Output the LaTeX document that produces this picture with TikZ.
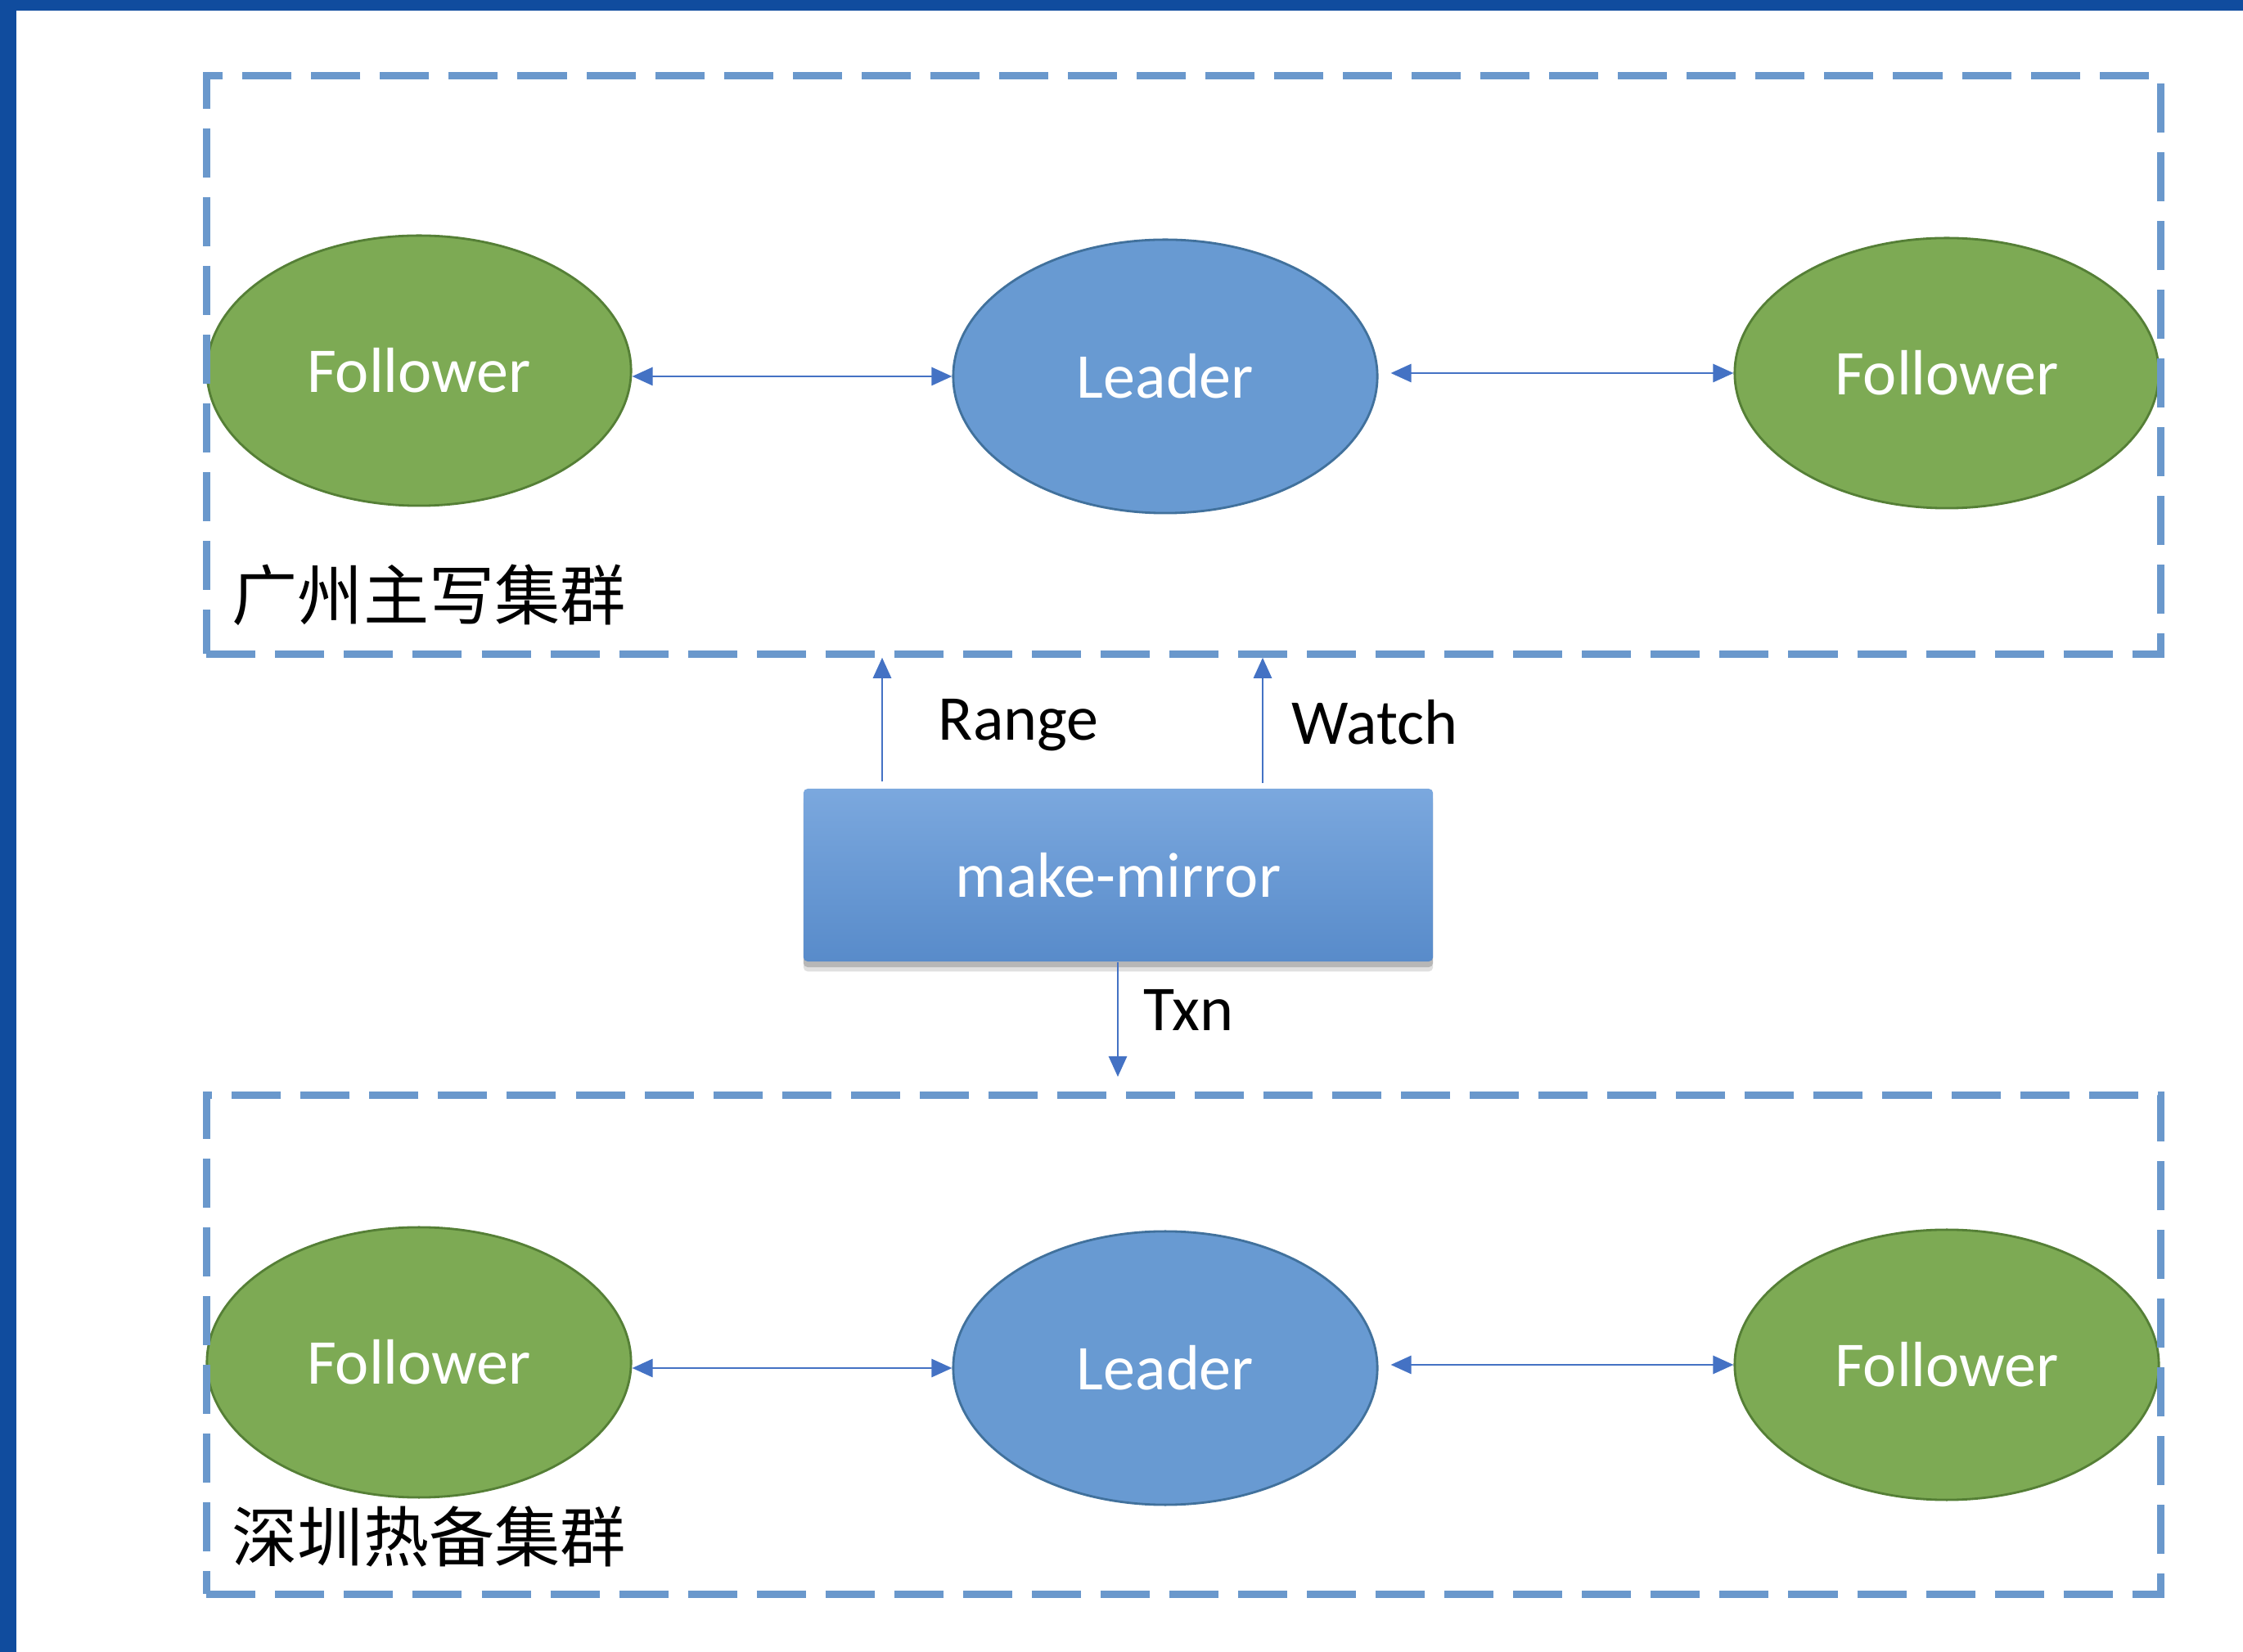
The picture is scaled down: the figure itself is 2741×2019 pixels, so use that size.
\documentclass[tikz,border=0pt]{standalone}
\usepackage{fontspec}
\setmainfont{Carlito}
\newfontfamily\cjk{Noto Sans CJK SC}
\usetikzlibrary{shapes.geometric,arrows.meta,shadows}
\definecolor{frameblue}{RGB}{16,76,158}
\definecolor{dashblue}{RGB}{106,152,204}
\definecolor{arrowblue}{RGB}{68,114,196}
\definecolor{fgreen}{RGB}{125,170,84}
\definecolor{fgreenline}{RGB}{85,127,54}
\definecolor{lblue}{RGB}{104,154,210}
\definecolor{lblueline}{RGB}{65,113,156}
\definecolor{mmtop}{RGB}{123,168,222}
\definecolor{mmbot}{RGB}{88,139,202}
\tikzset{
  txt/.style={font=\fontsize{22.2}{26}\selectfont},
  follower/.style={ellipse, draw=fgreenline, line width=0.8pt, fill=fgreen, text=white, txt,
    minimum width=5.18cm, minimum height=3.3cm, inner sep=0pt},
  leader/.style={ellipse, draw=lblueline, line width=0.8pt, fill=lblue, text=white, txt,
    minimum width=5.18cm, minimum height=3.34cm, inner sep=0pt},
  clusterbox/.style={rectangle, draw=dashblue, line width=2.6pt, dash pattern=on 0.6cm off 0.24cm,
    minimum width=23.87cm, inner sep=0pt},
  mirrorbox/.style={rectangle, rounded corners=1.5pt, top color=mmtop, bottom color=mmbot, draw=none, text=white, txt,
    minimum width=7.69cm, minimum height=2.11cm, inner sep=0pt,
    general shadow={shadow xshift=0pt, shadow yshift=-3.5pt, fill=black, opacity=0.12},
    general shadow={shadow xshift=0pt, shadow yshift=-2pt, fill=black, opacity=0.18}},
  conn/.style={draw=arrowblue, line width=0.8pt, >={Triangle[length=0.25cm,width=0.22cm]}},
  lbl/.style={txt, text=black, inner sep=0pt, anchor=base west},
  cjklbl/.style={font=\cjk\fontsize{22.8}{26}\selectfont, text=black, inner sep=0pt, anchor=west}
}
\begin{document}
\begin{tikzpicture}[x=0.01cm, y=-0.01cm]
\path[use as bounding box] (0,0) rectangle (2741,2019);
\fill[white] (0,0) rectangle (2741,2019);
\fill[frameblue] (0,0) rectangle (20,2019);
\fill[frameblue] (0,0) rectangle (2741,13);

% top cluster
\node[follower] (f1) at (512,453) {Follower};
\node[leader] (l1) at (1424,460) {Leader};
\node[follower] (f2) at (2379,456) {Follower};
% bottom cluster
\node[follower] (f3) at (512,1665) {Follower};
\node[leader] (l2) at (1424,1672) {Leader};
\node[follower] (f4) at (2379,1668) {Follower};

\node[clusterbox, minimum height=7.06cm] (gz) at (1446.5,446) {};
\node[clusterbox, minimum height=6.09cm] (sz) at (1446.5,1643.5) {};

\node[cjklbl] (gzlabel) at (283,727) {广州主写集群};
\node[cjklbl] (szlabel) at (283,1878) {深圳热备集群};

\node[mirrorbox] (mm) at (1366.5,1069.5) {make-mirror};

% horizontal connectors
\draw[conn,<->] (l1.west -| f1.east) -- (l1.west);
\draw[conn,<->] ([xshift=0.15cm]l1.east |- f2.west) -- (f2.west);
\draw[conn,<->] (l2.west -| f3.east) -- (l2.west);
\draw[conn,<->] ([xshift=0.15cm]l2.east |- f4.west) -- (f4.west);

% vertical connectors
\coordinate (rx) at (1078,0);
\coordinate (wx) at (1543,0);
\coordinate (txnEnd) at (1366,1316);
\draw[conn,->] ([yshift=0.08cm]mm.north -| rx) -- (rx |- gz.south);
\draw[conn,->] ([yshift=0.06cm]mm.north -| wx) -- (wx |- gz.south);
\draw[conn,->] (mm.south -| txnEnd) -- (txnEnd);

\node[lbl] (range) at (1146,905) {Range};
\node[lbl] (watch) at (1578,910) {Watch};
\node[lbl] (txn) at (1397,1260) {Txn};
\end{tikzpicture}
\end{document}
